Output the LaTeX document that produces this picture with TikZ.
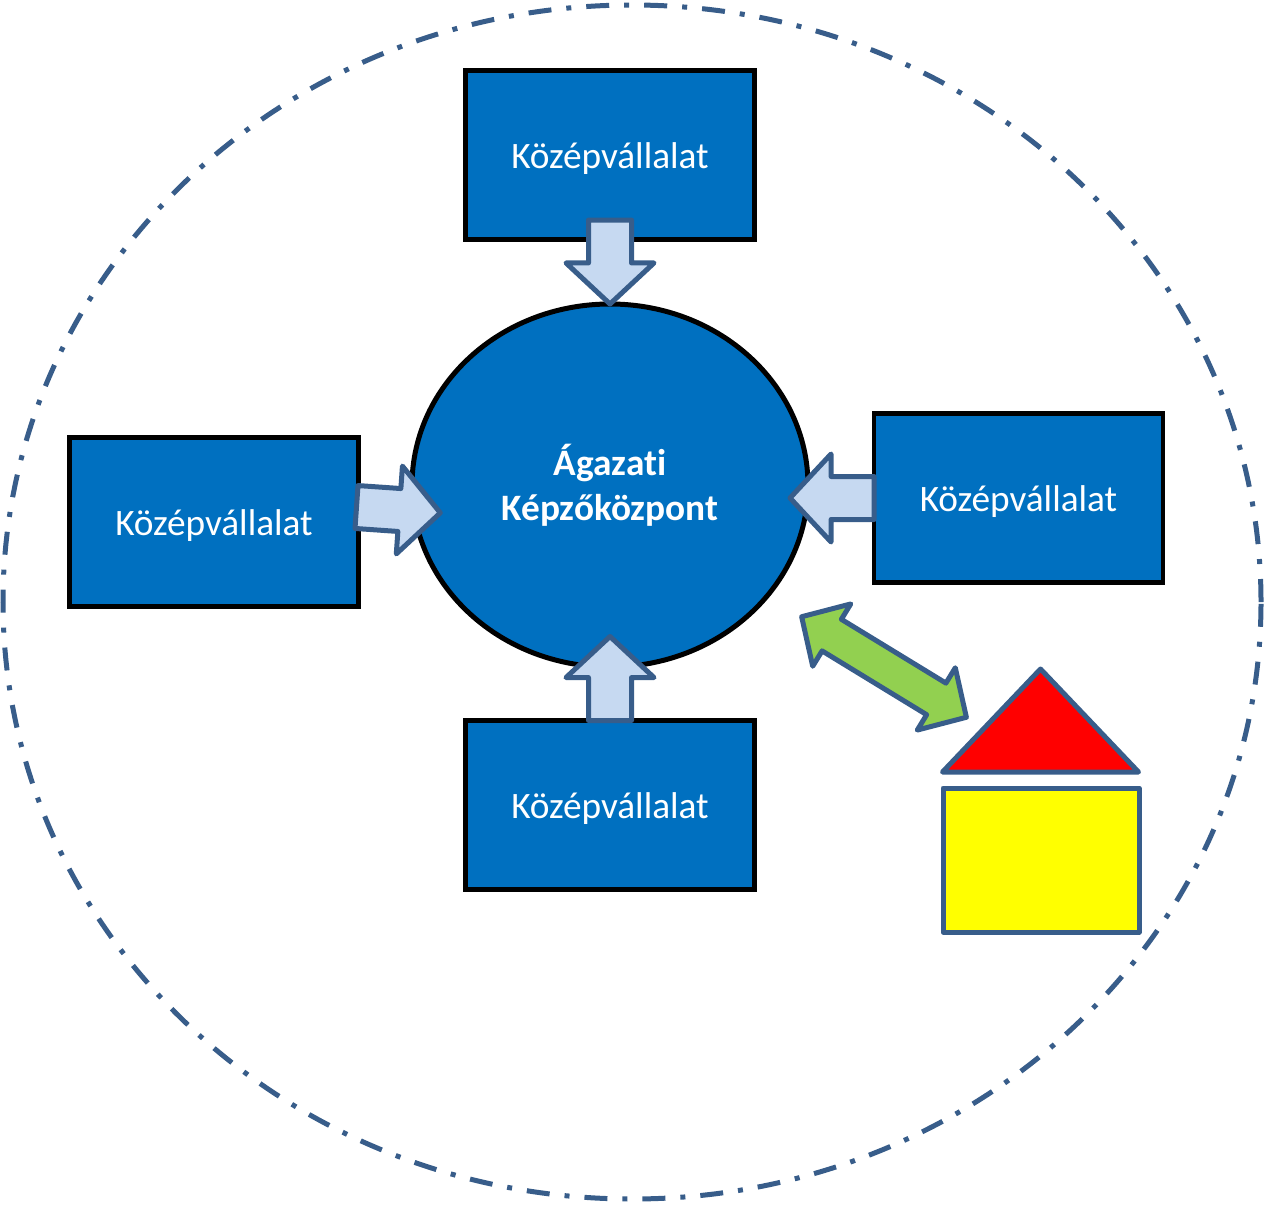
\documentclass[tikz,border=0pt]{standalone}
\usepackage{fontspec}
\setmainfont{Carlito}[Ligatures=NoCommon]
\usepackage{xcolor}
\usetikzlibrary{shapes.geometric,shapes.arrows}
\definecolor{boxblue}{HTML}{0070C0}
\definecolor{edgeblue}{HTML}{385D8A}
\definecolor{paleblue}{HTML}{C6D9F1}
\definecolor{arrowgreen}{HTML}{92D050}
\definecolor{roofred}{HTML}{FF0000}
\definecolor{wallyellow}{HTML}{FFFF00}
\tikzset{
  company/.style={draw=black, line width=4.5pt, fill=boxblue, text=white, inner sep=0pt, outer sep=0pt,
    minimum width=289pt, minimum height=169pt, text height=27pt, text depth=0pt,
    font=\fontsize{37.3}{45}\selectfont},
  inflow/.style={single arrow, draw=edgeblue, line width=5pt, fill=paleblue, line join=round, outer sep=0pt,
    inner xsep=0pt, inner ysep=19pt, single arrow head extend=22.5pt, single arrow tip angle=94},
  housepart/.style={draw=edgeblue, line width=5pt, line join=round},
}
\begin{document}
\begin{tikzpicture}[x=1pt, y=-1pt]
\useasboundingbox (0,0) rectangle (1265,1204);

\node (region) [ellipse, draw=edgeblue, line width=5pt, inner sep=0pt, outer sep=0pt,
  dash pattern=on 23pt off 15pt on 5pt off 15pt,
  minimum width=1258pt, minimum height=1194pt] at (632,602) {};

\node (comptop) [company] at (610,155) {Középvállalat};
\node (compleft) [company] at (214,522) {Középvállalat};
\node (compright) [company] at (1018.5,498) {Középvállalat};
\node (compbottom) [company] at (610,805) {Középvállalat};

\node (centre) [ellipse, draw=black, line width=5pt, fill=boxblue, text=white, inner sep=0pt, outer sep=0pt,
  minimum width=396pt, minimum height=363pt, align=center,
  font=\fontsize{37.3}{45}\selectfont\bfseries] at (610,485.5) {Ágazati\\Képzőközpont};

\node (arrtop) [inflow, minimum height=84pt, rotate=-90, anchor=tip] at (centre.north) {};
\node (arrright) [inflow, minimum height=84pt, rotate=180, anchor=tail] at (compright.west) {};
\node (arrbottom) [inflow, minimum height=84pt, rotate=90, anchor=tail] at (compbottom.north) {};
\node (arrleft) [inflow, minimum height=84pt, rotate=-4, anchor=tail] at ([xshift=-2pt,yshift=15pt]compleft.east) {};

\node (link) [double arrow, draw=edgeblue, line width=5pt, fill=arrowgreen, line join=round, outer sep=0pt,
  inner xsep=0pt, inner ysep=16pt, double arrow head extend=18pt, double arrow tip angle=92,
  minimum height=193pt, rotate=-31.4] at (884,667) {};

% house
\draw[housepart, fill=roofred] (942.5,772) -- (1040.5,669) -- (1138.5,772) -- cycle;
\node (body) [housepart, fill=wallyellow, inner sep=0pt, outer sep=0pt, minimum width=196pt, minimum height=144pt] at (1041,860) {};
\end{tikzpicture}
\end{document}
